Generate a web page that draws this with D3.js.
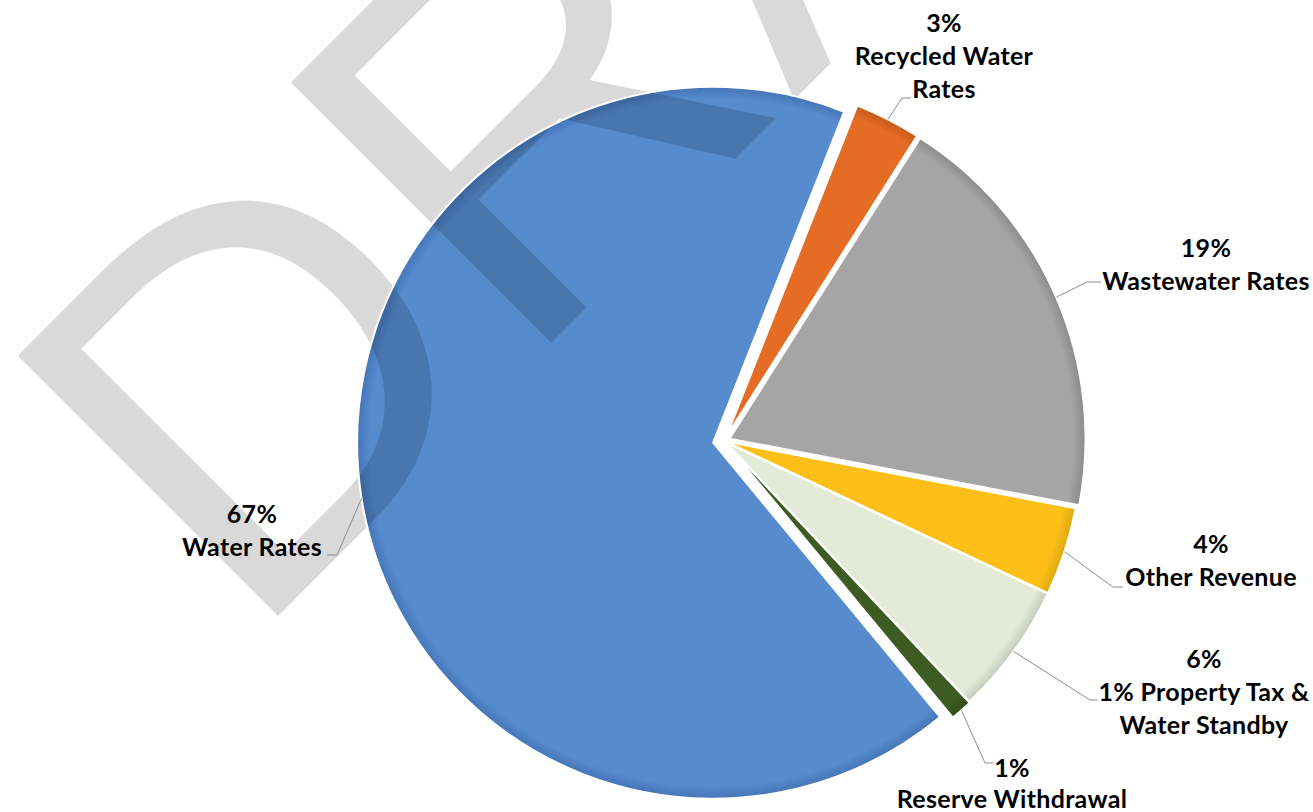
<!DOCTYPE html>
<html>
<head>
<meta charset="utf-8">
<script src="https://cdn.jsdelivr.net/npm/d3@7"></script>
<style>
  html, body { margin: 0; padding: 0; background: #ffffff; }
  svg { display: block; }
</style>
</head>
<body>
<svg id="chart" width="1313" height="812"></svg>
<script>
// Revenue sources, in drawing order (clockwise)
const categories = [
  "Water Rates",
  "Recycled Water Rates",
  "Wastewater Rates",
  "Other Revenue",
  "1% Property Tax & Water Standby",
  "Reserve Withdrawal"
];
const shares = [67, 3, 19, 4, 6, 1];          // percent of total revenue
const labelLines = [
  ["Water Rates"],
  ["Recycled Water", "Rates"],
  ["Wastewater Rates"],
  ["Other Revenue"],
  ["1% Property Tax &", "Water Standby"],
  ["Reserve Withdrawal"]
];
const watermarkText = "DRAFT";

// ---- styling ----
const fills = ["#568bcd", "#e46c24", "#a5a5a5", "#fbbf17", "#e3ebd8", "#3e5b23"];
const rims  = ["#4575b6", "#c85a1a", "#8b8b8b", "#dea70f", "#c4ccb9", "#31491b"];
const explode = [11, 5, 6, 2, 2, 3];           // slice pull-out distance, px

// label block: centre x, first baseline, leader elbow and leader end
const labelLayout = [
  { x: 252,  y: 523, elbow: [337, 555], end: [327, 555] },
  { x: 944,  y: 32,  elbow: [902, 98],  end: [911, 98] },
  { x: 1206, y: 257, elbow: [1087, 282], end: [1101, 282] },
  { x: 1211, y: 553, elbow: [1113, 587], end: [1123, 587] },
  { x: 1204, y: 668, elbow: [1090, 700], end: [1098, 700] },
  { x: 1012, y: 777, elbow: [985, 763],  end: [993, 763] }
];

const cx = 724, cy = 441, radius = 356;
const startDeg = 140.4;

const svg = d3.select("#chart");
const defs = svg.append("defs");

const pie = d3.pie()
  .sort(null)
  .value(d => d)
  .startAngle(startDeg * Math.PI / 180)
  .endAngle(startDeg * Math.PI / 180 + 2 * Math.PI);

const arcs = pie(shares);
const arc = d3.arc().innerRadius(0).outerRadius(radius);
const rimArc = d3.arc().innerRadius(radius).outerRadius(radius);

function offset(d, i) {
  const mid = (d.startAngle + d.endAngle) / 2;
  return [cx + explode[i] * Math.sin(mid), cy - explode[i] * Math.cos(mid)];
}

// radial shading that darkens each slice toward its rim
arcs.forEach((d, i) => {
  const g = defs.append("radialGradient")
    .attr("id", "shade" + i)
    .attr("gradientUnits", "userSpaceOnUse")
    .attr("cx", 0).attr("cy", 0).attr("r", radius);
  g.append("stop").attr("offset", 0).attr("stop-color", fills[i]);
  g.append("stop").attr("offset", 0.965).attr("stop-color", fills[i]);
  g.append("stop").attr("offset", 1).attr("stop-color", rims[i]);
});

const slices = svg.append("g").attr("class", "slices");
slices.selectAll("path")
  .data(arcs)
  .join("path")
  .attr("transform", (d, i) => `translate(${offset(d, i)})`)
  .attr("d", arc)
  .attr("fill", (d, i) => `url(#shade${i})`);

// watermark
svg.append("text")
  .attr("transform", "translate(247,647) rotate(-45)")
  .attr("font-family", "'Liberation Sans', Arial, sans-serif")
  .attr("font-size", 535)
  .attr("fill", "#000")
  .attr("fill-opacity", 0.15)
  .text(watermarkText);

// white slice borders
svg.append("g").attr("class", "borders")
  .selectAll("path")
  .data(arcs)
  .join("path")
  .attr("transform", (d, i) => `translate(${offset(d, i)})`)
  .attr("d", arc)
  .attr("fill", "none")
  .attr("stroke", "#ffffff")
  .attr("stroke-width", 2)
  .attr("stroke-linejoin", "round");

// leader lines
svg.append("g").attr("class", "leaders")
  .selectAll("polyline")
  .data(arcs)
  .join("polyline")
  .attr("points", (d, i) => {
    const [ox, oy] = offset(d, i);
    const [px, py] = rimArc.centroid(d);
    const L = labelLayout[i];
    return [[ox + px, oy + py], L.elbow, L.end].map(p => p.join(",")).join(" ");
  })
  .attr("fill", "none")
  .attr("stroke", "#8c8c8c")
  .attr("stroke-width", 1);

// data labels
const labels = svg.append("g").attr("class", "labels")
  .attr("font-family", "Lato, 'Open Sans', sans-serif")
  .attr("font-weight", 700)
  .attr("font-size", 25)
  .attr("letter-spacing", 0.3)
  .attr("fill", "#000")
  .attr("text-anchor", "middle");

arcs.forEach((d, i) => {
  const L = labelLayout[i];
  const lines = [shares[i] + "%"].concat(labelLines[i]);
  const t = labels.append("text").attr("x", L.x).attr("y", L.y);
  lines.forEach((line, k) => {
    t.append("tspan")
      .attr("x", L.x)
      .attr("dy", k === 0 ? 0 : (i === 5 ? 31 : 33))
      .text(line);
  });
});
</script>
</body>
</html>
